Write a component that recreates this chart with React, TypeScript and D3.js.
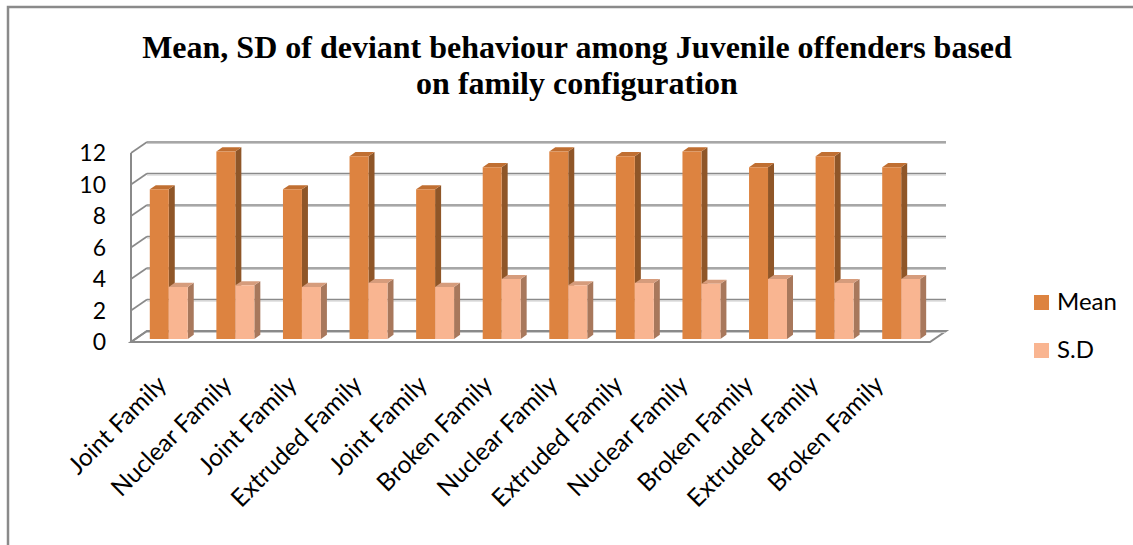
import React from 'react'
import * as d3 from 'd3'

// chart data
const categories = [
  'Joint Family', 'Nuclear Family', 'Joint Family', 'Extruded Family',
  'Joint Family', 'Broken Family', 'Nuclear Family', 'Extruded Family',
  'Nuclear Family', 'Broken Family', 'Extruded Family', 'Broken Family',
]
const meanValues = [9.5, 11.9, 9.5, 11.6, 9.5, 10.9, 11.9, 11.6, 11.9, 10.9, 11.6, 10.9]
const sdValues = [3.3, 3.4, 3.3, 3.55, 3.3, 3.8, 3.4, 3.55, 3.5, 3.8, 3.55, 3.8]
const seriesNames = ['Mean', 'S.D']
const yTicks = [0, 2, 4, 6, 8, 10, 12]
const titleLines = [
  'Mean, SD of deviant behaviour among Juvenile offenders based',
  'on family configuration',
]

const W = 1133
const H = 545

// colours per series: front, side, top
const palette = {
  Mean: { front: '#dd8340', side: '#8f5628', top: '#c06f32' },
  'S.D': { front: '#f9b591', side: '#a8785c', top: '#d69c7c' },
}

const axisFont = 'Lato, "Open Sans", sans-serif'

const App = () => {
  // floor front edge and depth of the 3D box
  const floorLeft = 131
  const floorRight = 930
  const depthX = 16
  const depthY = 11

  const y = d3.scaleLinear().domain([0, 12]).range([342, 153])
  const idx = categories.map((_, i) => String(i))
  const x = d3.scaleBand().domain(idx).range([floorLeft, floorRight]).paddingInner(0.43).paddingOuter(0.215)
  const xs = d3.scaleBand().domain(seriesNames).range([0, x.bandwidth()])
  const xLabel = d3.scalePoint().domain(idx).range([168, 885])

  const proj = (px: number, py: number, z: number): [number, number] => [px + depthX * z, py - depthY * z]
  const poly = (pts: [number, number][]) => d3.line()(pts) + 'Z'

  const barZ0 = 0.28
  const barZ1 = 0.655

  const barFaces = (x0: number, w: number, v: number) => {
    const b = y(0)
    const t = y(v)
    return {
      front: poly([proj(x0, b, barZ0), proj(x0 + w, b, barZ0), proj(x0 + w, t, barZ0), proj(x0, t, barZ0)]),
      side: poly([proj(x0 + w, b, barZ0), proj(x0 + w, b, barZ1), proj(x0 + w, t, barZ1), proj(x0 + w, t, barZ0)]),
      top: poly([proj(x0, t, barZ0), proj(x0 + w, t, barZ0), proj(x0 + w, t, barZ1), proj(x0, t, barZ1)]),
    }
  }

  const seriesValues: Record<string, number[]> = { Mean: meanValues, 'S.D': sdValues }

  return (
    <svg width={W} height={H} style={{ position: 'absolute', left: 0, top: 0, background: '#fff', overflow: 'hidden' }}>
      {/* outer frame */}
      <rect x={8} y={7} width={W + 20} height={H + 20} fill="#fff" stroke="#8a8a8a" strokeWidth={2.5} />

      {/* title */}
      <g fontFamily='"Liberation Serif", "Times New Roman", serif' fontWeight="bold" fontSize={32} textAnchor="middle">
        {titleLines.map((t, i) => (
          <text key={i} x={577} y={58 + i * 36}>{t}</text>
        ))}
      </g>

      {/* floor */}
      <path
        d={poly([proj(floorLeft, y(0), 0), proj(floorRight, y(0), 0), proj(floorRight, y(0), 1), proj(floorLeft, y(0), 1)])}
        fill="#fff" stroke="#8a8a8a" strokeWidth={2}
      />

      {/* back wall gridlines */}
      {yTicks.map(t => {
        const [ax, ay] = proj(floorLeft, y(t), 1)
        const [bx] = proj(floorRight, y(t), 1)
        return (
          <g key={'g' + t}>
            <line x1={ax} x2={bx} y1={ay} y2={ay} stroke="#8a8a8a" strokeWidth={1.6} />
            <line x1={ax} x2={bx} y1={ay + 1.5} y2={ay + 1.5} stroke="#c9c9c9" strokeWidth={1.2} />
          </g>
        )
      })}

      {/* side wall */}
      {yTicks.map(t => {
        const [ax, ay] = proj(floorLeft, y(t), 0)
        const [bx, by] = proj(floorLeft, y(t), 1)
        return <line key={'s' + t} x1={ax} y1={ay} x2={bx} y2={by} stroke="#8a8a8a" strokeWidth={1.6} />
      })}
      <line x1={floorLeft} x2={floorLeft} y1={y(0)} y2={y(12)} stroke="#8a8a8a" strokeWidth={2} />
      <line x1={floorLeft} x2={floorRight} y1={y(0)} y2={y(0)} stroke="#8a8a8a" strokeWidth={2.2} />

      {/* bars */}
      {idx.map((k, i) => (
        <g key={'b' + k}>
          {seriesNames.map(s => {
            const f = barFaces(x(k)! + xs(s)!, xs.bandwidth(), seriesValues[s][i])
            const c = palette[s as 'Mean' | 'S.D']
            return (
              <g key={s}>
                <path d={f.side} fill={c.side} />
                <path d={f.top} fill={c.top} />
                <path d={f.front} fill={c.front} />
              </g>
            )
          })}
        </g>
      ))}

      {/* y axis labels */}
      <g fontFamily={axisFont} fontSize={23} textAnchor="end" fill="#000">
        {yTicks.map(t => (
          <text key={'y' + t} x={106} y={y(t)} dy="0.36em">{t}</text>
        ))}
      </g>

      {/* category labels */}
      <g fontFamily={axisFont} fontSize={24.5} textAnchor="end" fill="#000">
        {idx.map((k, i) => (
          <text key={'c' + k} transform={`translate(${xLabel(k)},${386}) rotate(-45)`}>{categories[i]}</text>
        ))}
      </g>

      {/* legend */}
      <g fontFamily={axisFont} fontSize={24}>
        {seriesNames.map((s, i) => (
          <g key={'l' + s} transform={`translate(1034,${295 + i * 48})`}>
            <rect width={15} height={15} fill={palette[s as 'Mean' | 'S.D'].front} />
            <text x={23} y={15}>{s}</text>
          </g>
        ))}
      </g>
    </svg>
  )
}

export default App
